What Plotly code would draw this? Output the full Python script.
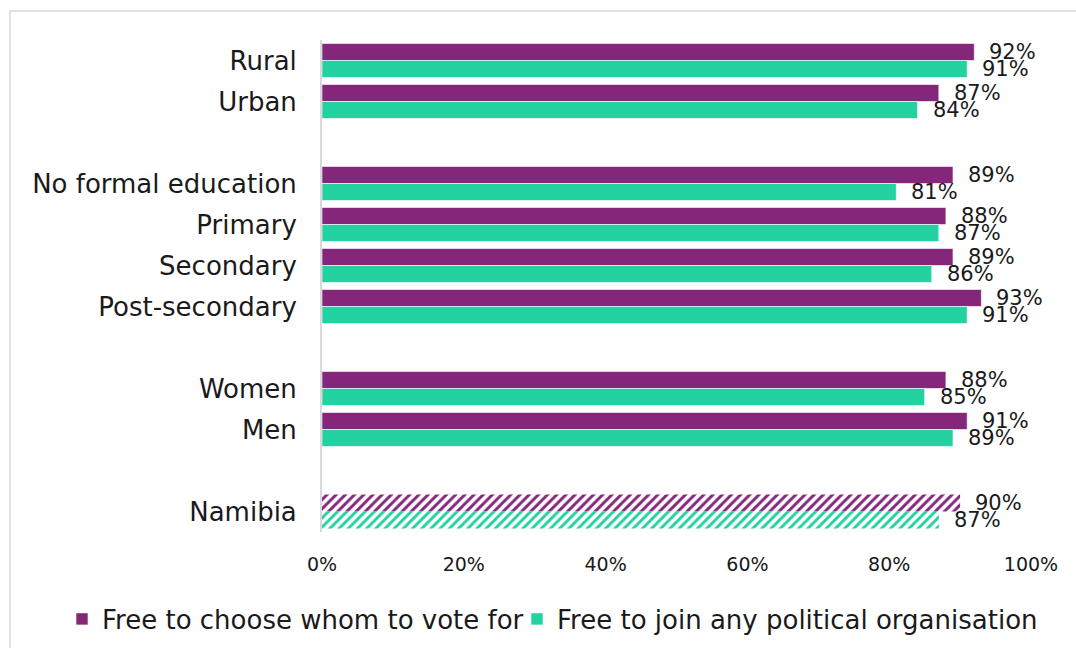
import plotly.graph_objects as go

# Survey shares by group (%)
groups = ["Rural", "Urban", "", "No formal education", "Primary", "Secondary",
          "Post-secondary", "", "Women", "Men", "", "Namibia"]
vote_free = [92, 87, None, 89, 88, 89, 93, None, 88, 91, None, 90]
join_free = [91, 84, None, 81, 87, 86, 91, None, 85, 89, None, 87]
series_names = ["Free to choose whom to vote for", "Free to join any political organisation"]
x_ticks = [0, 20, 40, 60, 80, 100]

PURPLE = "#84277B"
GREEN = "#24D1A1"
FONT = "DejaVu Sans"
TXT = "#1a1a1a"

W, H = 1076, 648
ML, MR, MT, MB = 322, 45, 40, 116
BARGAP = 0.17

pos = list(range(len(groups)))
rows = [(p, g) for p, g in zip(pos, groups) if g]
TOTAL = "Namibia"

fig = go.Figure()
for name, values, color, grp, leg in ((series_names[0], vote_free, PURPLE, "a", "legend"),
                                      (series_names[1], join_free, GREEN, "b", "legend2")):
    pts = [(p, v) for p, v in zip(pos, values) if v is not None]
    solid = [(p, v) for p, v in pts if groups[p] != TOTAL]
    hatched = [(p, v) for p, v in pts if groups[p] == TOTAL]
    fig.add_trace(go.Bar(
        name=name, x=[v for _, v in solid], y=[p for p, _ in solid],
        orientation="h", offsetgroup=grp, legendgroup=grp, legend=leg,
        marker=dict(color=color, line=dict(color="white", width=0.6)),
        hoverinfo="skip"))
    fig.add_trace(go.Bar(
        name=name, x=[v for _, v in hatched], y=[p for p, _ in hatched],
        orientation="h", offsetgroup=grp, legendgroup=grp, showlegend=False,
        marker=dict(color="white", line=dict(color="white", width=0),
                    pattern=dict(shape="/", fgcolor=color, bgcolor="white",
                                 size=6.5, solidity=0.45, fillmode="replace")),
        hoverinfo="skip"))

half = (1 - BARGAP) / 4
annotations = []
for values, dy in ((vote_free, -half), (join_free, half)):
    for p, v in zip(pos, values):
        if v is None:
            continue
        annotations.append(dict(
            x=v, y=p + dy, xref="x", yref="y", text=f"{v}%", showarrow=False,
            xanchor="left", yanchor="middle", xshift=13,
            font=dict(family=FONT, size=21, color=TXT)))

legend_style = dict(orientation="h", xref="container", yref="container",
                    xanchor="left", yanchor="middle", y=1 - 619 / H,
                    font=dict(size=26, color=TXT), itemwidth=30,
                    bgcolor="rgba(0,0,0,0)")

pw = W - ML - MR
ph = H - MT - MB
fig.update_layout(
    width=W, height=H,
    margin=dict(l=ML, r=MR, t=MT, b=MB, pad=0, autoexpand=False),
    paper_bgcolor="white", plot_bgcolor="white",
    barmode="group", bargap=BARGAP, bargroupgap=0,
    font=dict(family=FONT, size=22, color=TXT),
    xaxis=dict(range=[0, 100], tickvals=x_ticks,
               ticktext=[f"{t}%" for t in x_ticks], automargin=False,
               showgrid=False, zeroline=False, showline=False,
               ticks="", tickfont=dict(size=19, color=TXT), ticklabelstandoff=19),
    yaxis=dict(range=[len(groups) - 0.5, -0.5], automargin=False,
               tickvals=[p for p, _ in rows], ticktext=[g for _, g in rows],
               showgrid=False, zeroline=False,
               showline=True, linecolor="#D9D9D9", linewidth=2,
               ticks="", tickfont=dict(size=26, color=TXT), ticklabelstandoff=18),
    legend=dict(legend_style, x=62 / W),
    legend2=dict(legend_style, x=517 / W),
    annotations=annotations,
    shapes=[dict(type="rect", xref="paper", yref="paper",
                 x0=(10 - ML) / pw, x1=(W + 5 - ML) / pw,
                 y0=(H - MB - H - 5) / ph, y1=(H - MB - 11) / ph,
                 line=dict(color="#D9D9D9", width=1.5), fillcolor="rgba(0,0,0,0)",
                 layer="below")],
    showlegend=True,
)

fig.write_html("out.html")
